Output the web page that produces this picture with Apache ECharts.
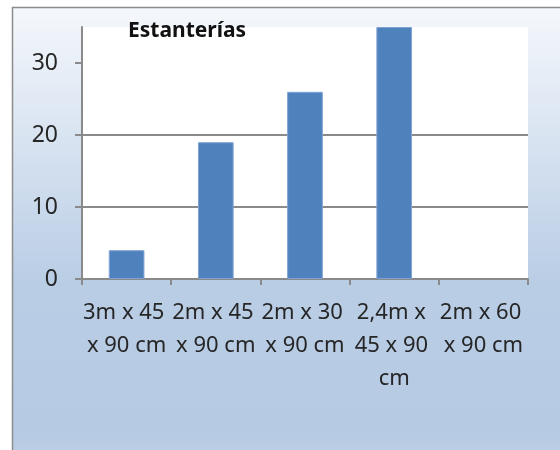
<!DOCTYPE html>
<html>
<head>
<meta charset="utf-8">
<script src="https://cdn.jsdelivr.net/npm/echarts@6/dist/echarts.min.js"></script>
<style>
html,body{margin:0;padding:0;background:#fff;}
#main{width:560px;height:450px;}
</style>
</head>
<body>
<div id="main"></div>
<script>
var categories = ['3m x 45 x 90 cm', '2m x 45 x 90 cm', '2m x 30 x 90 cm', '2,4m x 45 x 90 cm', '2m x 60 x 90 cm'];
var values = [4, 19, 26, 35, null];
var yTicks = [0, 10, 20, 30];
var titleText = 'Estanterías';

var myChart = echarts.init(document.getElementById('main'));
var axisGrey = '#8a8a8a';
var txt = '#262626';
var font = 'Noto Sans';

var option = {
    backgroundColor: '#fff',
    animation: false,
    graphic: [{
        type: 'rect',
        z: -10,
        shape: {x: 12.5, y: 7.5, width: 600, height: 500},
        style: {
            stroke: '#8c8c8c',
            lineWidth: 1.5,
            fill: new echarts.graphic.LinearGradient(0, 0, 0, 1, [
                {offset: 0, color: '#f5f8fc'},
                {offset: 0.55, color: '#b9cde5'},
                {offset: 0.85, color: '#b6cae3'},
                {offset: 1, color: '#c9d9ec'}
            ])
        }
    }],
    title: {
        text: titleText,
        left: 123,
        top: 16,
        textStyle: {fontFamily: font, fontWeight: 'bold', fontSize: 21, color: '#111'}
    },
    grid: {
        left: 82, top: 27, right: 32, bottom: 171,
        show: true, backgroundColor: '#fff', borderWidth: 0
    },
    xAxis: {
        type: 'category',
        data: categories,
        axisLine: {lineStyle: {color: axisGrey, width: 2}},
        axisTick: {show: true, length: 6, lineStyle: {color: axisGrey, width: 2}},
        axisLabel: {
            fontFamily: font, fontSize: 22, color: txt,
            margin: 17, lineHeight: 33,
            width: 89, overflow: 'break', interval: 0
        }
    },
    yAxis: {
        type: 'value',
        min: 0, max: 35, interval: 10,
        axisLine: {show: true, lineStyle: {color: axisGrey, width: 2}},
        axisTick: {show: true, length: 7, lineStyle: {color: axisGrey, width: 2}, customValues: yTicks},
        axisLabel: {fontFamily: font, fontSize: 23, color: txt, margin: 24, customValues: yTicks},
        splitLine: {show: true, showMaxLine: false, lineStyle: {color: axisGrey, width: 2}}
    },
    series: [{
        type: 'bar',
        data: values,
        barCategoryGap: '60%',
        itemStyle: {color: '#4f81bd', borderColor: '#7fa3d2', borderWidth: 1}
    }]
};
myChart.setOption(option);
</script>
</body>
</html>
